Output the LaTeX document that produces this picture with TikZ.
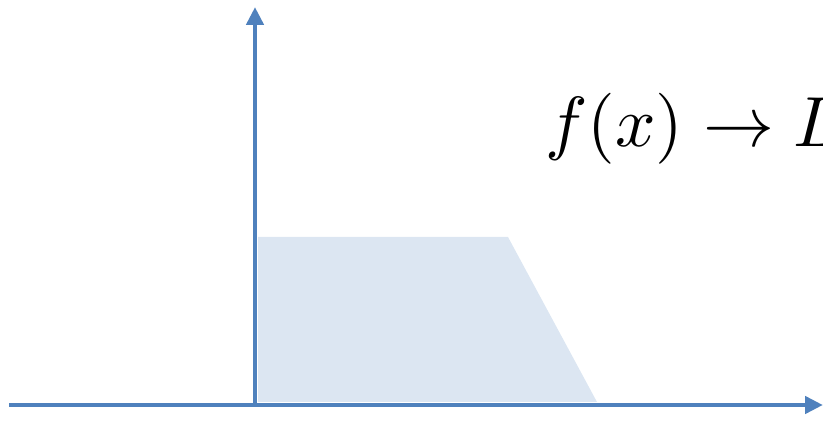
\documentclass[tikz,border=0pt]{standalone}
\usepackage{graphicx}
\usetikzlibrary{arrows.meta}
\definecolor{axisblue}{HTML}{4F81BD}
\definecolor{areablue}{HTML}{DCE6F2}
\begin{document}
\begin{tikzpicture}[x=1pt, y=-1pt, axis/.style={line width=4.5pt, draw=axisblue, -{Triangle[length=18pt, width=17pt]}}]
  \useasboundingbox (0, 0) rectangle (823, 422);
  \coordinate (O) at (255, 405);
  \coordinate (X) at (823, 405);
  \coordinate (Xs) at (9, 405);
  \coordinate (Y) at (255, 7);
  
  \fill[areablue] (258, 237) -- (508, 237) -- (597, 402) -- (258, 402) -- cycle;
  \draw[axis] (Xs) -- (X);
  \draw[axis] (O) -- (Y);
  \node[anchor=base west, inner sep=0pt] (lim) at (545, 147) {\scalebox{7.1}{$f(x) \to L$}};
\end{tikzpicture}
\end{document}
